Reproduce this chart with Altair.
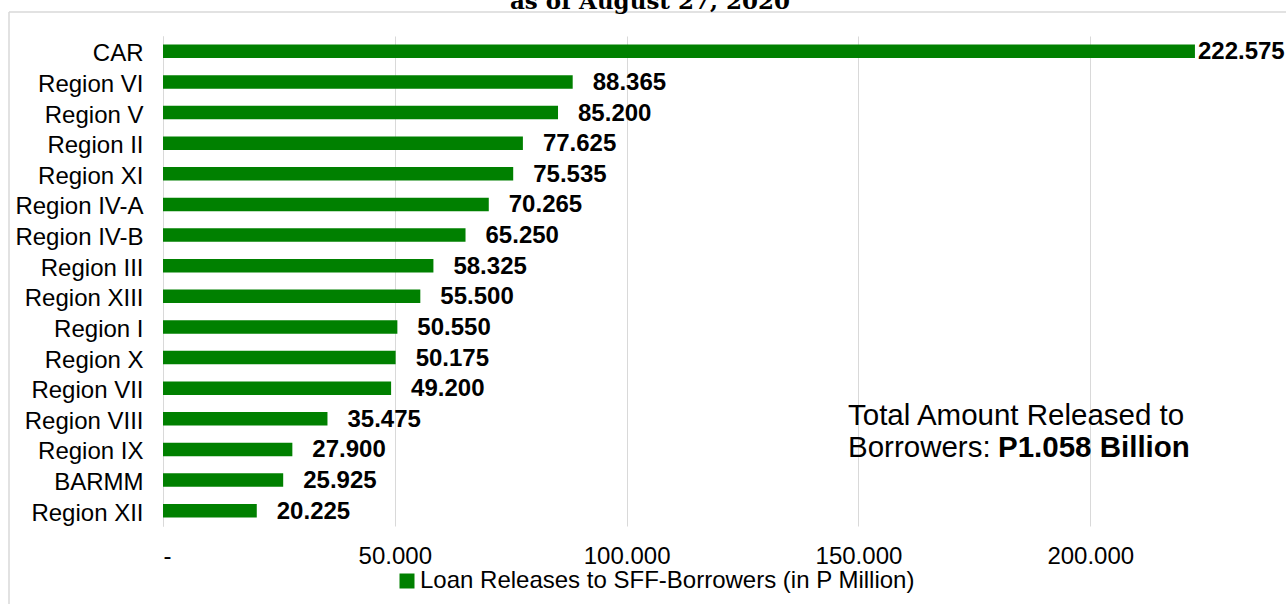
import altair as alt
import pandas as pd

regions = ["CAR", "Region VI", "Region V", "Region II", "Region XI", "Region IV-A",
           "Region IV-B", "Region III", "Region XIII", "Region I", "Region X",
           "Region VII", "Region VIII", "Region IX", "BARMM", "Region XII"]
amounts = [222.575, 88.365, 85.200, 77.625, 75.535, 70.265, 65.250, 58.325,
           55.500, 50.550, 50.175, 49.200, 35.475, 27.900, 25.925, 20.225]
x_ticks = [0, 50, 100, 150, 200]
series_name = "Loan Releases to SFF-Borrowers (in P Million)"
title_text = "as of August 27, 2020"
note_line1 = "Total Amount Released to"
note_line2a = "Borrowers: "
note_line2b = "P1.058 Billion"

FONT = "Liberation Sans"
FS = 24
GREEN = "#008000"
GRID = "#d9d9d9"

df = pd.DataFrame({"region": regions, "amount": amounts, "series": series_name})
df["label"] = [f"{v:.3f}" for v in amounts]

y_enc = alt.Y("region:N", sort=regions,
              scale=alt.Scale(paddingInner=0.56, paddingOuter=0.28),
              axis=alt.Axis(title=None, ticks=False, labelPadding=20, labelOffset=3,
                            labelFontSize=FS, labelFont=FONT, labelColor="#000000",
                            domainColor=GRID, domainWidth=1, labelLimit=400))
x_enc = alt.X("amount:Q", scale=alt.Scale(domain=[0, 242], nice=False, zero=True),
              axis=alt.Axis(values=x_ticks, title=None, domain=False, ticks=False,
                            grid=True, gridColor=GRID, gridWidth=1,
                            labelExpr="datum.value == 0 ? '-' : format(datum.value, '.3f')",
                            labelFontSize=FS, labelFont=FONT, labelColor="#000000",
                            labelPadding=18))

base = alt.Chart(df)

bars = base.mark_bar().encode(
    y=y_enc, x=x_enc,
    color=alt.Color("series:N", scale=alt.Scale(range=[GREEN]),
                    legend=alt.Legend(title=None, orient="none", legendX=232, legendY=533,
                                      symbolType="square", symbolSize=225,
                                      symbolStrokeWidth=0, symbolOpacity=1,
                                      labelFontSize=FS, labelFont=FONT,
                                      labelColor="#000000", labelLimit=900,
                                      labelOffset=1, padding=0)))

labels = base.transform_joinaggregate(mx="max(amount)").transform_filter(
    "datum.amount < datum.mx").mark_text(
    align="left", baseline="middle", dx=20, dy=1, fontWeight="bold",
    fontSize=FS, font=FONT, color="#000000").encode(
    y=alt.Y("region:N", sort=regions), x="amount:Q", text="label:N")

top_label = base.transform_joinaggregate(mx="max(amount)").transform_filter(
    "datum.amount == datum.mx").mark_text(
    align="left", baseline="middle", dx=3, dy=1, fontWeight="bold",
    fontSize=FS, font=FONT, color="#000000").encode(
    y=alt.Y("region:N", sort=regions), x="amount:Q", text="label:N")

one = pd.DataFrame({"k": [0]})
border_left = alt.Chart(one).mark_rule(stroke=GRID, strokeWidth=1.5).encode(
    x=alt.value(-154), x2=alt.value(-154), y=alt.value(-24), y2=alt.value(580))
border_top = alt.Chart(one).mark_rule(stroke=GRID, strokeWidth=1.5).encode(
    x=alt.value(-154), x2=alt.value(1124), y=alt.value(-24), y2=alt.value(-24))

note1 = alt.Chart(one).mark_text(align="left", baseline="alphabetic", fontSize=29.5,
                                 font=FONT, color="#000000").encode(
    x=alt.value(685), y=alt.value(389), text=alt.value(note_line1))
note2 = alt.Chart(one).mark_text(align="left", baseline="alphabetic", fontSize=29.5,
                                 font=FONT, color="#000000").encode(
    x=alt.value(685), y=alt.value(421), text=alt.value(note_line2a))
note3 = alt.Chart(one).mark_text(align="left", baseline="alphabetic", fontSize=29.5,
                                 font=FONT, fontWeight="bold", color="#000000").encode(
    x=alt.value(835), y=alt.value(421), text=alt.value(note_line2b))

chart = alt.layer(border_left, border_top, bars, labels, top_label,
                  note1, note2, note3).properties(
    width=1122, height=490,
    padding={"left": 163, "top": 36, "right": 1, "bottom": 78},
    autosize=alt.AutoSizeParams(type="none"),
    background="white",
    title=alt.TitleParams(title_text, font="DejaVu Serif", fontSize=23, fontWeight="bold",
                          anchor="middle", frame="group", dx=-74, offset=-3,
                          color="#000000"),
).configure_view(strokeWidth=0)

chart.save("out.html", embed_options={"renderer": "svg", "actions": False})
